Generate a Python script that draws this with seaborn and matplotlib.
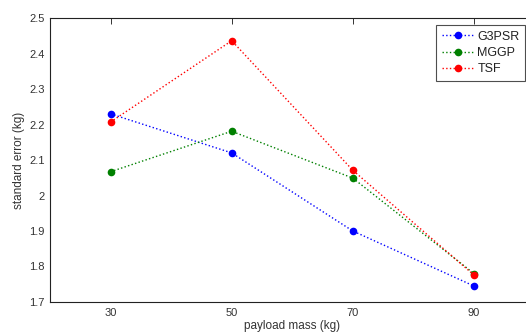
import numpy as np
import pandas as pd
import matplotlib
matplotlib.use('Agg')
import matplotlib.pyplot as plt
import seaborn as sns

# values
payload = [30, 50, 70, 90]
g3psr = [2.230, 2.120, 1.900, 1.745]
mggp = [2.067, 2.181, 2.049, 1.780]
tsf = [2.207, 2.436, 2.071, 1.776]
methods = ['G3PSR', 'MGGP', 'TSF']
colors = ['#0000ff', '#008000', '#ff0000']

df = pd.DataFrame({
    'payload': payload * 3,
    'err': g3psr + mggp + tsf,
    'method': [m for m in methods for _ in payload],
})

sns.set_style('white')
plt.rcParams['font.family'] = ['Liberation Sans', 'DejaVu Sans']

fig = plt.figure(figsize=(5.26, 3.34), dpi=100)
ax = fig.add_axes([50 / 526, 32 / 334, 484.5 / 526, 284 / 334])

sns.lineplot(data=df, x='payload', y='err', hue='method', palette=colors,
             linestyle=':', marker='o', markersize=5.5, markeredgewidth=0,
             linewidth=1.0, ax=ax)

ax.set_xlim(20, 100)
ax.set_ylim(1.7, 2.5)
ax.set_xticks(payload)
ax.set_yticks(np.arange(1.7, 2.51, 0.1))
ax.set_yticklabels(['1.7', '1.8', '1.9', '2', '2.1', '2.2', '2.3', '2.4', '2.5'])
ax.tick_params(direction='in', length=4, width=0.7, labelsize=8, colors='#333333',
               top=True, right=True, pad=4)
for s in ax.spines.values():
    s.set_linewidth(0.8)
    s.set_color('#222222')

ax.set_xlabel('payload mass (kg)', fontsize=8.5, color='#333333', labelpad=2)
ax.set_ylabel('standard error (kg)', fontsize=8.5, color='#333333', labelpad=3)

handles, labels = ax.get_legend_handles_labels()
leg = ax.legend(handles, labels, loc='upper left', bbox_to_anchor=(386 / 484.5, 0.975),
                fontsize=9, frameon=True, fancybox=False, handlelength=2.6,
                handletextpad=0.25, borderpad=0.45, labelspacing=0.35,
                borderaxespad=0)
leg.get_frame().set_edgecolor('#222222')
leg.get_frame().set_linewidth(0.8)
for t in leg.get_texts():
    t.set_color('#222222')

fig.savefig('out.png', dpi=100)
